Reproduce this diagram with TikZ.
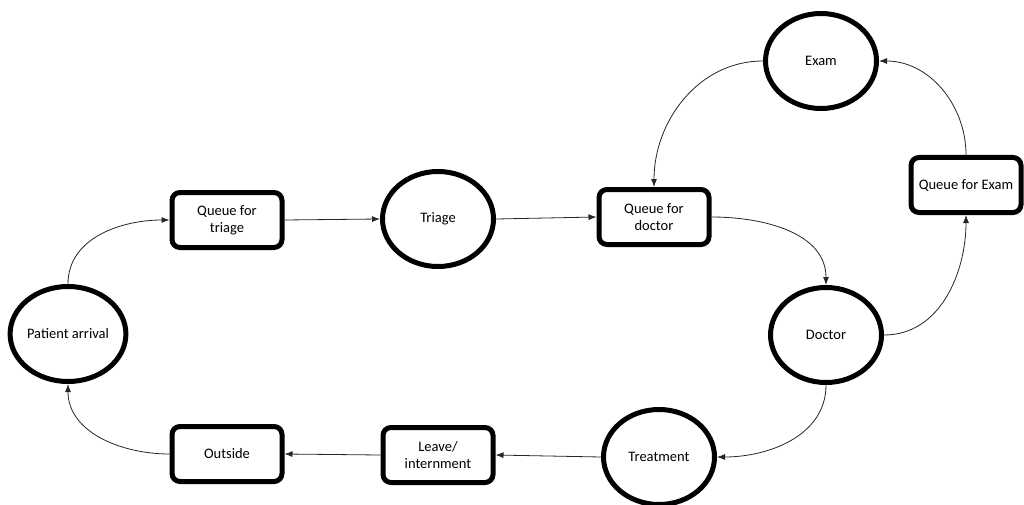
\documentclass[tikz,border=0pt]{standalone}
\usepackage{fontspec}
\setmainfont{Carlito}
\usetikzlibrary{shapes.geometric,arrows.meta}
\begin{document}
\begin{tikzpicture}[x=1pt,y=-1pt,
  circ/.style={ellipse,draw,line width=5pt,minimum width=111pt,minimum height=95pt,inner sep=0pt,align=center,font=\fontsize{14.5}{17}\selectfont},
  box/.style={rectangle,rounded corners=8pt,draw,line width=5pt,minimum width=110pt,minimum height=55pt,inner sep=1pt,align=center,font=\fontsize{14.5}{17}\selectfont},
  conn/.style={draw=black!85,line width=0.8pt,-{Latex[length=8pt,width=6pt]}}]
\useasboundingbox (0,0) rectangle (1024,505);
\node[circ] (pa) at (68,334) {Patient arrival};
\node[box] (qt) at (227,220) {Queue for\\triage};
\node[circ] (tr) at (438,219) {Triage};
\node[box] (qd) at (654,217) {Queue for\\doctor};
\node[circ] (ex) at (821,61) {Exam};
\node[box] (qe) at (966,185) {Queue for Exam};
\node[circ] (dc) at (826,335) {Doctor};
\node[circ] (tm) at (659,457) {Treatment};
\node[box] (lv) at (438,455) {Leave/\\internment};
\node[box] (ou) at (227,454) {Outside};
\draw[conn] (pa.north) to[out=90,in=180] (qt.west);
\draw[conn] (qt.east) -- (tr.west);
\draw[conn] (tr.east) -- (qd.west);
\draw[conn] (qd.east) to[out=0,in=90] (dc.north);
\draw[conn] (dc.east) to[out=0,in=-90] (qe.south);
\draw[conn] (qe.north) to[out=90,in=0] (ex.east);
\draw[conn] (ex.west) to[out=180,in=90] (qd.north);
\draw[conn] (dc.south) to[out=-90,in=0] (tm.east);
\draw[conn] (tm.west) -- (lv.east);
\draw[conn] (lv.west) -- (ou.east);
\draw[conn] (ou.west) to[out=180,in=-90] (pa.south);
\end{tikzpicture}
\end{document}
